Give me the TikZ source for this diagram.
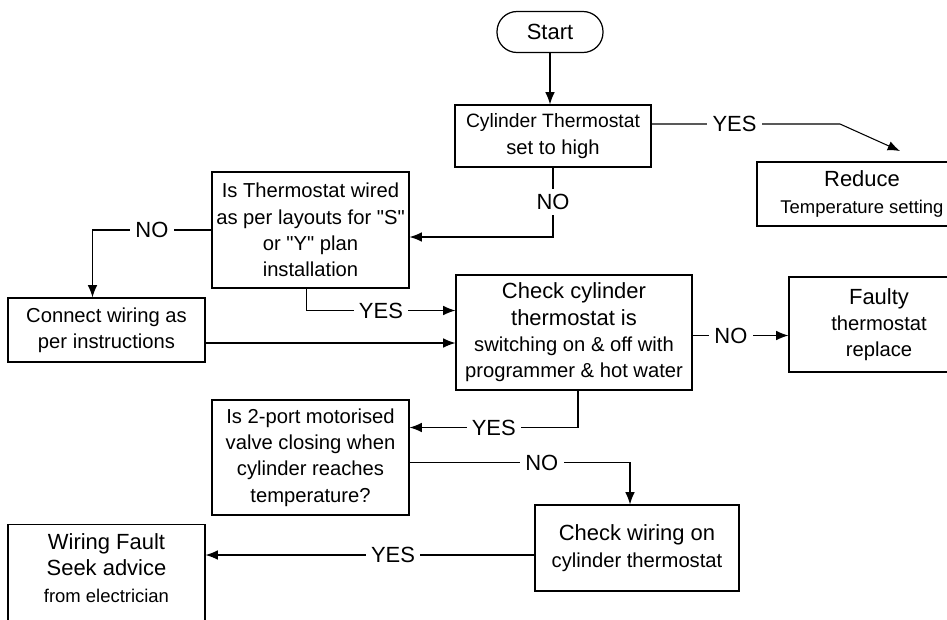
\documentclass[tikz,border=0pt]{standalone}
\usepackage{fontspec}
\setmainfont{Liberation Sans}[Ligatures=TeXOff]
\usepackage{tikz}
\usetikzlibrary{calc,arrows.meta}

\newcommand{\fclarge}{\fontsize{12.5}{15}\selectfont}
\newcommand{\fcnormal}{\fontsize{11.5}{15}\selectfont}
\newcommand{\fcsmall}{\fontsize{10.5}{15}\selectfont}

\tikzset{
  fcbox/.style={draw, line width=0.7pt, align=center, inner sep=2pt, font=\fcnormal},
  fclab/.style={fill=white, inner sep=3pt, font=\fclarge},
  fcarrow/.style={-{Latex[length=7pt,width=5.5pt]}, line width=0.6pt},
}

\begin{document}
\begin{tikzpicture}[x=0.02cm,y=-0.02cm]
          \useasboundingbox (0,0) rectangle (947,619);
          \clip (0,0) rectangle (947,619);
          % boxes
          \node[fcbox,rounded corners=0.4cm,minimum width=2.12cm,minimum height=0.82cm,font=\fclarge] (start) at (550,32) {Start};
          \node[fcbox,minimum width=3.92cm,minimum height=1.24cm] (cyl) at (553,136) {{\fontsize{11}{15}\selectfont Cylinder Thermostat}\\set to high};
          \node[fcbox,minimum width=4.2cm,minimum height=1.28cm] (reduce) at (862,194) {{\fclarge Reduce}\\{\fcsmall Temperature setting}};
          \node[fcbox,minimum width=3.94cm,minimum height=2.32cm] (therm) at (310.5,230) {Is Thermostat wired\\as per layouts for "S"\\or "Y" plan\\installation};
          \node[fcbox,minimum width=3.94cm,minimum height=1.28cm] (connect) at (106.5,330) {Connect wiring as\\per instructions};
          \node[fcbox,minimum width=4.72cm,minimum height=2.3cm] (check) at (574,332.5) {{\fclarge Check cylinder}\\{\fclarge thermostat is}\\switching on \& off with\\programmer \& hot water};
          \node[fcbox,minimum width=3.6cm,minimum height=1.9cm] (faulty) at (879,324.5) {{\fclarge Faulty}\\thermostat\\replace};
          \node[fcbox,minimum width=3.94cm,minimum height=2.3cm] (valve) at (310.5,457.5) {Is 2-port motorised\\valve closing when\\cylinder reaches\\temperature?};
          \node[fcbox,minimum width=4.08cm,minimum height=1.72cm] (wiring) at (637,548) {{\fclarge Check wiring on}\\cylinder thermostat};
          \node[fcbox,minimum width=3.94cm,minimum height=2.4cm,anchor=north] (fault) at (106.5,524) {};
          \node[align=center,font=\fclarge] (faulttxt) at (106.5,568) {Wiring Fault\\Seek advice\\{\fcsmall from electrician}};
          % connectors
          \coordinate (yesbend) at (840,124);
          \coordinate (yestip) at (900,151);
          \draw[fcarrow] (start.south) -- (start.south |- cyl.north);
          \draw[fcarrow] ($(cyl.east)+(0,-12)$) -- node[fclab,pos=0.44]{YES} (yesbend) -- (yestip);
          \draw[fcarrow] (cyl.south) |- node[fclab,pos=0.25]{NO} ($(therm.east)+(0,7)$);
          \draw[fcarrow] (therm.west) -| node[fclab,pos=0.25]{NO} ($(connect.north)+(-14,0)$);
          \draw[fcarrow] ($(therm.south)+(-4,0)$) |- node[fclab,pos=0.75]{YES} ($(check.west)+(0,-22)$);
          \draw[fcarrow] ($(connect.east)+(0,13)$) coordinate (ce) -- (ce -| check.west);
          \draw[fcarrow] ($(check.east)+(0,3)$) coordinate (cn) -- node[fclab,pos=0.4]{NO} (cn -| faulty.west);
          \draw[fcarrow] ($(check.south)+(4,0)$) |- node[fclab,pos=0.75]{YES} ($(valve.east)+(0,-30)$);
          \draw[fcarrow] ($(valve.east)+(0,5)$) -| node[fclab,pos=0.3]{NO} ($(wiring.north)+(-7,0)$);
          \draw[fcarrow] ($(wiring.west)+(0,7)$) coordinate (wy) -- node[fclab,pos=0.43]{YES} (wy -| fault.east);
        \end{tikzpicture}
\end{document}
